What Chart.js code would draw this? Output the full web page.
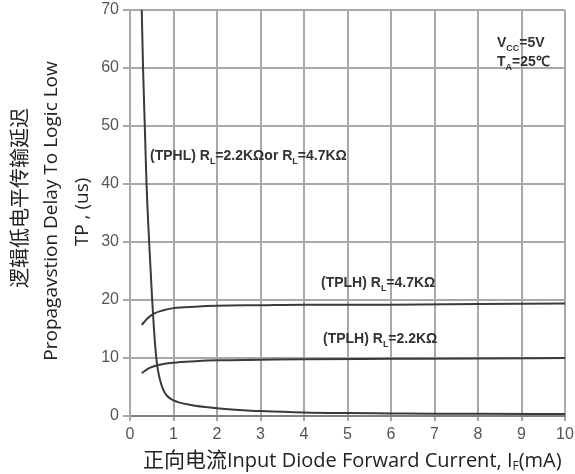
<!DOCTYPE html>
<html>
<head>
<meta charset="utf-8">
<script src="https://cdn.jsdelivr.net/npm/chart.js@4"></script>
<style>
  html, body { margin: 0; padding: 0; background: #fff; }
  #wrap { width: 575px; height: 474px; }
</style>
</head>
<body>
<div id="wrap"><canvas id="c"></canvas></div>
<script>
// Propagation delay vs input diode forward current.

const xTicks = [0, 1, 2, 3, 4, 5, 6, 7, 8, 9, 10];
const yTicks = [0, 10, 20, 30, 40, 50, 60, 70];

// TPHL, RL = 2.2K or 4.7K
const tphlX = [0.27, 0.30, 0.34, 0.38, 0.44, 0.51, 0.57, 0.62, 0.68, 0.76, 0.86, 1.0, 1.4, 2.0, 2.6, 3.0, 4.0, 5.0, 6.0, 7.0, 8.0, 10.0];
const tphlY = [70, 60, 50, 40, 30, 20, 13, 9, 6.5, 4.6, 3.4, 2.7, 1.9, 1.35, 1.0, 0.85, 0.6, 0.5, 0.45, 0.4, 0.38, 0.35];

// TPLH, RL = 4.7K
const tplh47X = [0.27, 0.40, 0.54, 0.75, 1.0, 1.5, 2.0, 3.0, 4.0, 6.0, 8.0, 10.0];
const tplh47Y = [15.7, 16.8, 17.6, 18.2, 18.6, 18.85, 19.0, 19.1, 19.2, 19.2, 19.3, 19.4];

// TPLH, RL = 2.2K
const tplh22X = [0.27, 0.45, 0.65, 1.0, 1.5, 2.0, 3.0, 4.0, 6.0, 8.0, 10.0];
const tplh22Y = [7.4, 8.3, 8.8, 9.2, 9.45, 9.6, 9.7, 9.8, 9.85, 9.9, 10.0];

const pts = (xs, ys) => xs.map((x, i) => ({ x: x, y: ys[i] }));

const curve = (label, xs, ys) => ({
    label: label,
    data: pts(xs, ys),
    showLine: true,
    borderColor: '#3a3a3a',
    borderWidth: 2,
    pointRadius: 0,
    cubicInterpolationMode: 'monotone',
    fill: false,
});

// text with subscript pieces: parts = [[text, isSub], ...]
function drawRich(ctx, parts, x, y, size, color) {
    ctx.fillStyle = color;
    ctx.textBaseline = 'alphabetic';
    ctx.textAlign = 'left';
    let cx = x;
    parts.forEach(([t, sub]) => {
        const fs = sub ? Math.round(size * 0.62) : size;
        ctx.font = 'bold ' + fs + 'px "Liberation Sans", Arial, sans-serif';
        ctx.fillText(t, cx, sub ? y + size * 0.28 : y);
        cx += ctx.measureText(t).width;
    });
}

const textPlugin = {
    id: 'texts',
    afterDraw(chart) {
        const ctx = chart.ctx;
        ctx.save();

        // curve notes
        const nc = '#333';
        drawRich(ctx, [['(TPHL) R', false], ['L', true], ['=2.2KΩor R', false], ['L', true], ['=4.7KΩ', false]], 150, 160, 14, nc);
        drawRich(ctx, [['(TPLH) R', false], ['L', true], ['=4.7KΩ', false]], 321, 287, 14, nc);
        drawRich(ctx, [['(TPLH) R', false], ['L', true], ['=2.2KΩ', false]], 323, 343, 14, nc);
        drawRich(ctx, [['V', false], ['CC', true], ['=5V', false]], 497, 47, 14, nc);
        drawRich(ctx, [['T', false], ['A', true], ['=25℃', false]], 497, 66, 14, nc);

        // x axis title
        const cjk = '"Noto Sans CJK SC", sans-serif';
        const lat = '"Open Sans", "Noto Sans", sans-serif';
        ctx.fillStyle = '#222';
        ctx.textBaseline = 'alphabetic';
        ctx.textAlign = 'left';
        let tx = 143;
        const ty = 467;
        ctx.font = '21px ' + cjk;
        ctx.fillText('正向电流', tx, ty);
        tx += ctx.measureText('正向电流').width;
        ctx.font = '20px ' + lat;
        ctx.fillText('Input Diode Forward Current, I', tx, ty);
        tx += ctx.measureText('Input Diode Forward Current, I').width;
        ctx.font = '12px ' + lat;
        ctx.fillText('F', tx, ty + 3);
        tx += ctx.measureText('F').width;
        ctx.font = '20px ' + lat;
        ctx.fillText('(mA)', tx, ty);

        // y axis titles, rotated
        const vtext = (t, cxPos, cyPos, font) => {
            ctx.save();
            ctx.translate(cxPos, cyPos);
            ctx.rotate(-Math.PI / 2);
            ctx.font = font;
            ctx.textAlign = 'center';
            ctx.textBaseline = 'middle';
            ctx.fillText(t, 0, 0);
            ctx.restore();
        };
        vtext('逻辑低电平传输延迟', 19, 198, '20px ' + cjk);
        vtext('Propagavstion Delay To Logic Low', 52, 211, '19px ' + lat);
        vtext('TP , (us)', 83, 212, '19px ' + lat);

        ctx.restore();
    }
};

const tickFont = { size: 16, family: '"Liberation Sans", Arial, sans-serif' };
const gridColor = '#a8a8a8';

new Chart(document.getElementById('c').getContext('2d'), {
    type: 'scatter',
    data: {
        datasets: [
            curve('TPHL', tphlX, tphlY),
            curve('TPLH 4.7K', tplh47X, tplh47Y),
            curve('TPLH 2.2K', tplh22X, tplh22Y),
        ]
    },
    options: {
        responsive: true,
        maintainAspectRatio: false,
        animation: false,
        layout: { padding: { left: 0, right: 10, top: 10, bottom: 0 } },
        plugins: {
            legend: { display: false },
            tooltip: { enabled: false },
        },
        scales: {
            x: {
                type: 'linear',
                min: xTicks[0],
                max: xTicks[xTicks.length - 1],
                afterBuildTicks: (s) => { s.ticks = xTicks.map(v => ({ value: v })); },
                afterFit: (s) => { s.height = 58; s.paddingLeft = 0; s.paddingRight = 0; },
                grid: { color: gridColor, lineWidth: 2, tickLength: 5 },
                border: { color: '#808080', width: 2 },
                ticks: { color: '#555', padding: 4, font: tickFont }
            },
            y: {
                type: 'linear',
                min: yTicks[0],
                max: yTicks[yTicks.length - 1],
                afterBuildTicks: (s) => { s.ticks = yTicks.map(v => ({ value: v })); },
                afterFit: (s) => { s.width = 130; s.paddingTop = 0; s.paddingBottom = 0; },
                grid: { color: gridColor, lineWidth: 2, tickLength: 7 },
                border: { color: gridColor, width: 2 },
                ticks: { color: '#555', padding: 4, font: tickFont }
            }
        }
    },
    plugins: [textPlugin]
});
</script>
</body>
</html>
